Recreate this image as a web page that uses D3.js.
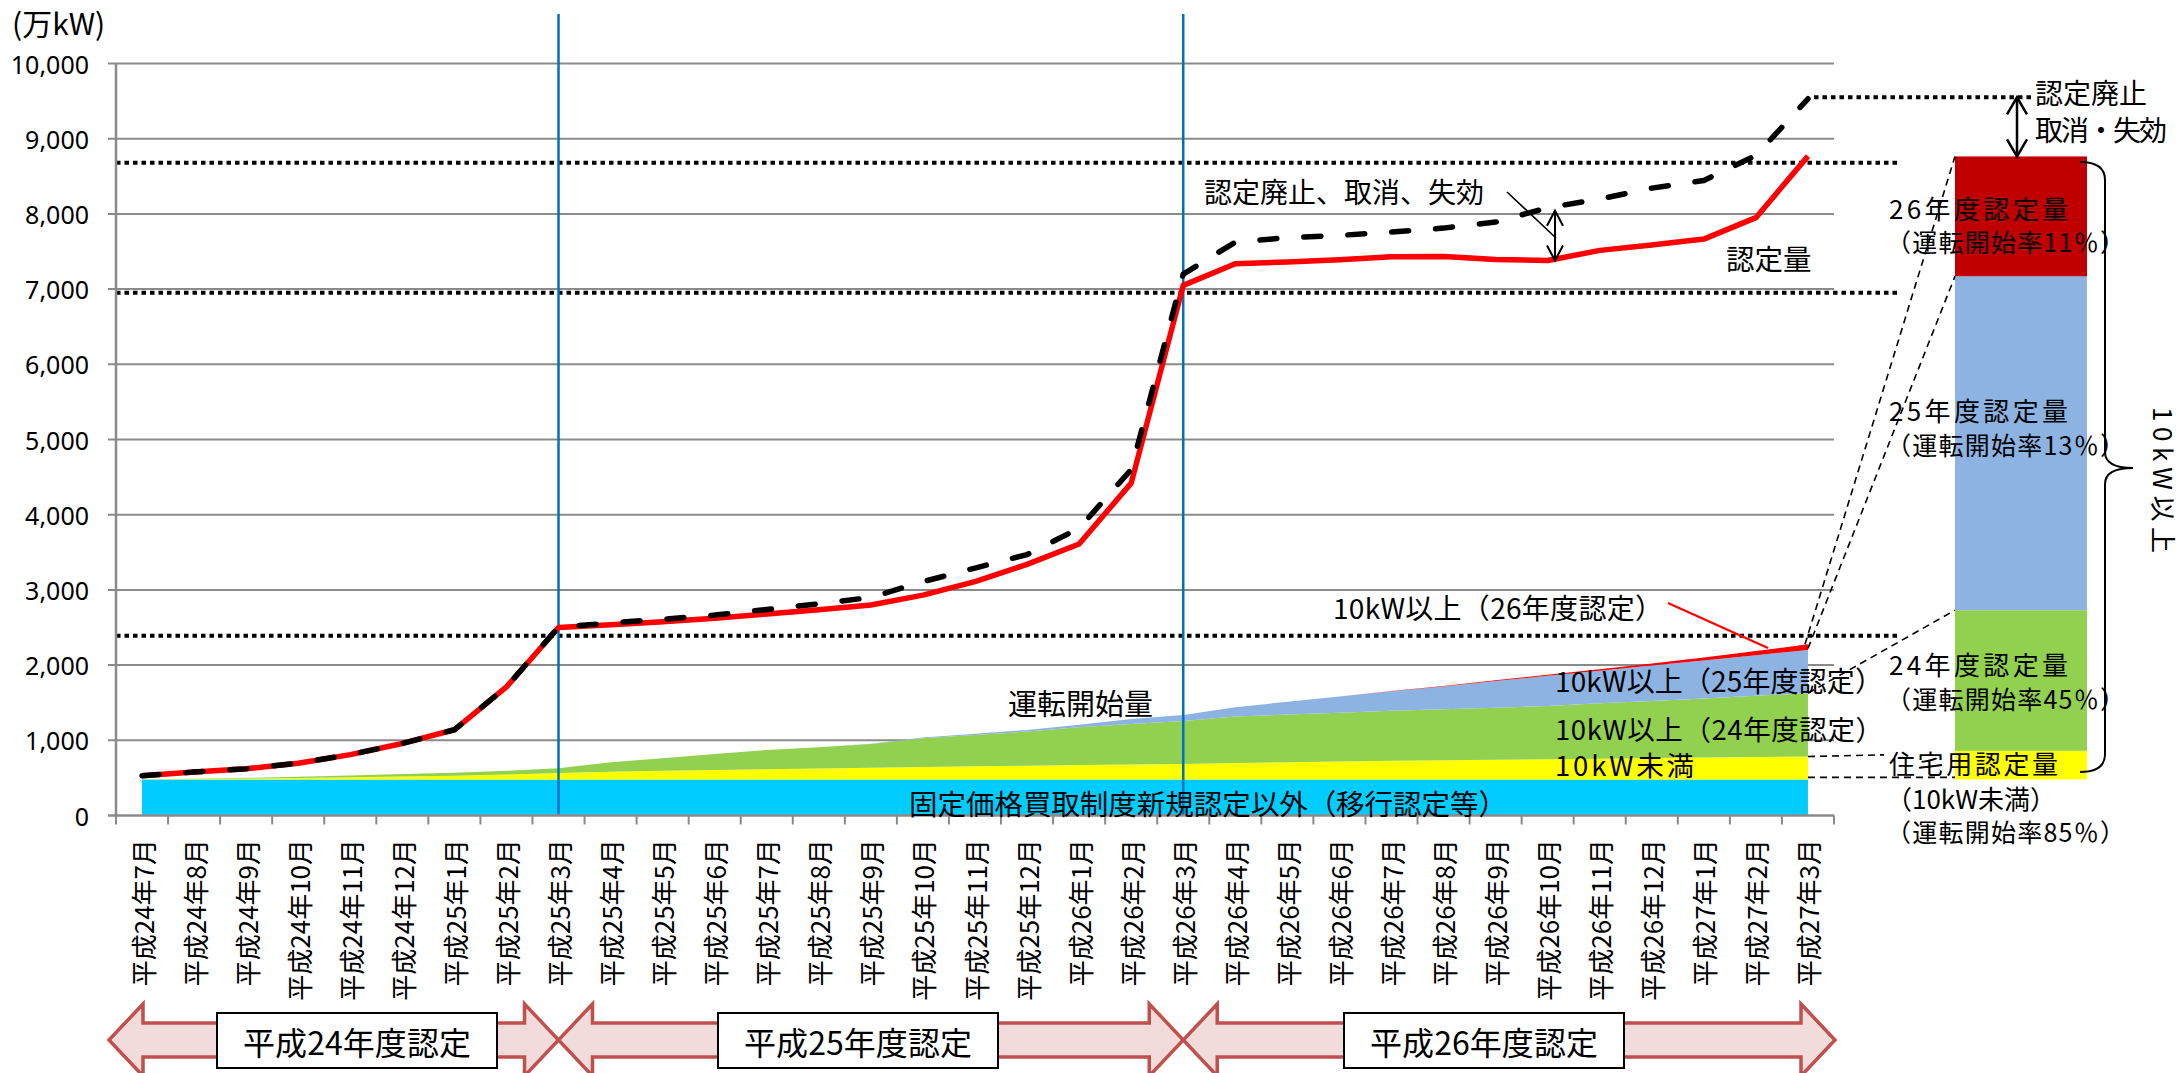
<!DOCTYPE html>
<html><head><meta charset="utf-8">
<script src="https://cdn.jsdelivr.net/npm/d3@7"></script>
<style>
body{margin:0;background:#fff}
svg{display:block}
text{font-family:"Noto Sans CJK JP","Noto Sans",sans-serif;fill:#000}
</style>
</head><body>
<svg id="c" width="2181" height="1073"></svg>
<script>
// ---------------- data ----------------
const months = ["平成24年7月","平成24年8月","平成24年9月","平成24年10月","平成24年11月","平成24年12月",
"平成25年1月","平成25年2月","平成25年3月","平成25年4月","平成25年5月","平成25年6月","平成25年7月","平成25年8月","平成25年9月","平成25年10月","平成25年11月","平成25年12月",
"平成26年1月","平成26年2月","平成26年3月","平成26年4月","平成26年5月","平成26年6月","平成26年7月","平成26年8月","平成26年9月","平成26年10月","平成26年11月","平成26年12月",
"平成27年1月","平成27年2月","平成27年3月"];
const yTickValues = [0,1000,2000,3000,4000,5000,6000,7000,8000,9000,10000];

// 運転開始量 (万kW), stacked
const migrated    = [480,480,480,480,480,480,480,480,480,480,480,480,480,480,480,480,480,480,480,480,480,480,480,480,480,480,480,480,480,480,480,480,480];
const residential = [2,6,11,18,27,38,50,65,85,103,115,126,136,146,156,165,174,183,192,199,206,217,228,238,247,255,262,269,276,284,291,298,304];
const over10kW_H24 = [0,4,10,17,26,33,40,49,62,125,165,213,256,282,316,383,418,453,500,538,571,618,634,649,665,677,692,708,736,758,786,814,842];
const over10kW_H25 = [0,0,0,0,0,0,0,0,0,0,0,0,0,0,2,8,15,22,35,66,81,125,170,215,260,305,353,400,434,472,505,540,575];
const over10kW_H26 = [0,0,0,0,0,0,0,0,0,0,0,0,0,0,0,0,0,0,0,0,0,0,0,0,3,6,10,14,19,28,40,55,75];

// 認定量 and 認定量＋認定廃止・取消・失効
const certified = [528,578,622,695,810,958,1140,1710,2500,2535,2578,2622,2680,2735,2800,2930,3110,3340,3610,4420,7050,7338,7362,7391,7430,7435,7395,7380,7515,7585,7665,7950,8768];
const certifiedInclCancelled = [528,578,622,695,810,958,1140,1710,2505,2560,2610,2665,2740,2815,2900,3110,3290,3470,3820,4600,7200,7625,7683,7714,7758,7811,7891,8082,8197,8343,8445,8777,9531];

// right-hand bar: certified amount by category (base = 移行認定)
const barKeys   = ["base","residential","h24","h25","h26"];
const barValues = [480, 380, 1870, 4440, 1594];
const cancelledTop = 9550;
const refLevels = [2390, 6950, 8680];
const fiscalYearLabels = ["平成24年度認定","平成25年度認定","平成26年度認定"];

// ---------------- layout ----------------
const svg = d3.select("#c");
const X0 = 116, X1 = 1834, Y0 = 815.5, Y1 = 63.5;
const x = d3.scaleBand().domain(months).range([X0, X1]).paddingInner(0).paddingOuter(0);
const cx = m => x(m) + x.bandwidth()/2;
const y = d3.scaleLinear().domain([0,10000]).range([Y0, Y1]);

const colors = {migrated:"#00ccff", residential:"#ffff00", h24:"#92d050", h25:"#8db3e2", h26:"#ff0000"};
const barColors = {residential:"#ffff00", h24:"#92d050", h25:"#8db3e2", h26:"#c00000"};

// grid
svg.append("g").selectAll("line").data(yTickValues.filter(v=>v>0)).join("line")
  .attr("x1", X0-8).attr("x2", X1).attr("y1", d=>y(d)).attr("y2", d=>y(d))
  .attr("stroke", "#8a8a8a").attr("stroke-width", 2);

// reference dotted lines
svg.append("g").selectAll("line").data(refLevels).join("line")
  .attr("x1", X0).attr("x2", 1898).attr("y1", d=>y(d)).attr("y2", d=>y(d))
  .attr("stroke", "#000").attr("stroke-width", 4).attr("stroke-dasharray", "4.5,4");
svg.append("line").attr("x1", cx(months[32])+6).attr("x2", 2033)
  .attr("y1", y(cancelledTop)).attr("y2", y(cancelledTop))
  .attr("stroke", "#000").attr("stroke-width", 4).attr("stroke-dasharray", "4.5,4");

// stacked areas
const rows = months.map((m,i)=>({m, migrated:migrated[i], residential:residential[i], h24:over10kW_H24[i], h25:over10kW_H25[i], h26:over10kW_H26[i]}));
const keys = ["migrated","residential","h24","h25","h26"];
const stack = d3.stack().keys(keys)(rows);
const area = d3.area().x(d=>cx(d.data.m)).y0(d=>y(d[0])).y1(d=>y(d[1]));
svg.append("g").selectAll("path").data(stack).join("path")
  .attr("d", area).attr("fill", d=>colors[d.key]);

// blue vertical lines (fiscal year boundaries)
const fyBoundaries = [months[8], months[20]];
svg.append("g").selectAll("line").data(fyBoundaries).join("line")
  .attr("x1", d=>cx(d)).attr("x2", d=>cx(d)).attr("y1", 14).attr("y2", Y0)
  .attr("stroke", "#0070c0").attr("stroke-width", 2.5);

// lines
const line = d3.line().x((d,i)=>cx(months[i])).y(d=>y(d));
svg.append("path").attr("d", line(certified)).attr("fill","none")
  .attr("stroke","#ff0000").attr("stroke-width",5.5).attr("stroke-linejoin","round");
svg.append("path").attr("d", line(certifiedInclCancelled)).attr("fill","none")
  .attr("stroke","#000").attr("stroke-width",5.5).attr("stroke-dasharray","17,27")
  .attr("stroke-linecap","round").attr("stroke-linejoin","round");

// axes
svg.append("line").attr("x1",X0).attr("x2",X0).attr("y1",Y1).attr("y2",Y0+1).attr("stroke","#8a8a8a").attr("stroke-width",2.5);
svg.append("line").attr("x1",X0-8).attr("x2",X1).attr("y1",Y0).attr("y2",Y0).attr("stroke","#8a8a8a").attr("stroke-width",2.5);
svg.append("g").selectAll("line").data(d3.range(months.length+1)).join("line")
  .attr("x1", i=>X0 + i*x.bandwidth()).attr("x2", i=>X0 + i*x.bandwidth())
  .attr("y1", Y0).attr("y2", Y0+9).attr("stroke","#8a8a8a").attr("stroke-width",2);

svg.append("g").selectAll("text").data(yTickValues).join("text")
  .attr("x", 89).attr("y", d=>y(d)).attr("text-anchor","end").attr("dominant-baseline","central")
  .style("font-family","'Noto Sans',sans-serif").style("font-size","25px")
  .text(d3.format(","));

svg.append("g").selectAll("text").data(months).join("text")
  .attr("transform", d=>`translate(${cx(d)},839) rotate(-90)`)
  .attr("text-anchor","end").attr("dominant-baseline","central")
  .style("font-size","26px").text(d=>d);

svg.append("text").attr("x",12).attr("y",22).attr("dominant-baseline","central")
  .style("font-size","30px").text("(万kW)");

// right bar
let acc = 0;
const barSegs = barKeys.map((k,i)=>{const s={key:k, y0:acc, y1:acc+barValues[i]}; acc+=barValues[i]; return s;});
const BX = 1955, BW = 132;
svg.append("g").selectAll("rect").data(barSegs.filter(s=>s.key!=="base")).join("rect")
  .attr("x",BX).attr("width",BW).attr("y",d=>y(d.y1)).attr("height",d=>y(d.y0)-y(d.y1))
  .attr("fill",d=>barColors[d.key]);

// connector dashed lines from area end to bar
const last = rows.length-1;
const endX = cx(months[last]);
const topAt = k => stack.find(s=>s.key===k)[last][1];
const seg = k => barSegs.find(s=>s.key===k);
const connectors = [
  [endX-3, y(topAt("h26")), BX, y(seg("h26").y1)],
  [endX, y(topAt("h26"))+4, BX, y(seg("h25").y1)],
  [endX, y(topAt("h24")), BX, y(seg("h24").y1)],
  [endX, y(topAt("residential")), 1884, y(seg("residential").y1)+4],
  [endX, y(topAt("migrated"))-2, BX, y(topAt("migrated"))-2]
];
svg.append("g").selectAll("line").data(connectors).join("line")
  .attr("x1",d=>d[0]).attr("y1",d=>d[1]).attr("x2",d=>d[2]).attr("y2",d=>d[3])
  .attr("stroke","#000").attr("stroke-width",1.6).attr("stroke-dasharray","7,5");

// double arrow helper
function dblArrow(xp, ya, yb, hw, hl, sw){
  const g = svg.append("g").attr("fill","none").attr("stroke","#000").attr("stroke-width",sw);
  g.append("line").attr("x1",xp).attr("x2",xp).attr("y1",ya).attr("y2",yb);
  g.append("path").attr("d",`M${xp-hw},${ya+hl}L${xp},${ya}L${xp+hw},${ya+hl}`);
  g.append("path").attr("d",`M${xp-hw},${yb-hl}L${xp},${yb}L${xp+hw},${yb-hl}`);
}
dblArrow(2017, y(cancelledTop), y(acc), 10, 17, 2.5);
dblArrow(1555, y(certifiedInclCancelled[27])+3, y(certified[27]), 8, 15, 2);
svg.append("line").attr("x1",1507).attr("y1",192).attr("x2",1556).attr("y2",238).attr("stroke","#000").attr("stroke-width",1.6);

// curly brace
svg.append("path").attr("fill","none").attr("stroke","#000").attr("stroke-width",2)
  .attr("d","M2080,162 Q2105,162 2105,180 L2105,452 Q2105,468 2133,468 Q2105,468 2105,484 L2105,754 Q2105,772 2080,772");
svg.append("text").attr("transform","translate(2164,480) rotate(90)")
  .attr("text-anchor","middle").attr("dominant-baseline","central")
  .style("font-size","26px").attr("textLength",146).attr("lengthAdjust","spacing").text("10kW以上");

// red pointer for 26年度
svg.append("line").attr("x1",1668).attr("y1",603).attr("x2",1768).attr("y2",648).attr("stroke","#ff0000").attr("stroke-width",2.2);

// chart labels
const labels = [
  {t:"認定廃止、取消、失効", x:1204, y:191, s:28},
  {t:"認定量", x:1726, y:257, s:28.5},
  {t:"10kW以上（26年度認定）", x:1333, y:607, s:28, tl:330},
  {t:"運転開始量", x:1008, y:702, s:29},
  {t:"10kW以上（25年度認定）", x:1555, y:680, s:28, tl:328},
  {t:"10kW以上（24年度認定）", x:1555, y:728, s:27.5, tl:328},
  {t:"10kW未満", x:1555, y:764, s:27.5, tl:139},
  {t:"固定価格買取制度新規認定以外（移行認定等）", x:909, y:802, s:28.5, tl:598},
  {t:"認定廃止", x:2035, y:92, s:28},
  {t:"取消・失効", x:2035, y:129, s:28, tl:132},
  {t:"26年度認定量", x:1889, y:207, s:26, tl:179},
  {t:"（運転開始率11％）", x:1886, y:241, s:25, tl:239},
  {t:"25年度認定量", x:1889, y:409, s:26, tl:179},
  {t:"（運転開始率13％）", x:1886, y:444, s:25, tl:239},
  {t:"24年度認定量", x:1889, y:663, s:26, tl:179},
  {t:"（運転開始率45％）", x:1886, y:698, s:25, tl:239},
  {t:"住宅用認定量", x:1889, y:762, s:26, tl:169},
  {t:"（10kW未満）", x:1886, y:797, s:26, tl:170},
  {t:"（運転開始率85％）", x:1886, y:831, s:25, tl:239}
];
svg.append("g").selectAll("text").data(labels).join("text")
  .attr("x",d=>d.x).attr("y",d=>d.y).attr("dominant-baseline","central")
  .attr("textLength",d=>d.tl||null).attr("lengthAdjust","spacing")
  .style("font-size",d=>d.s+"px").text(d=>d.t);

// fiscal-year arrows at bottom
const fyRanges = [[X0-7, cx(months[8])], [cx(months[8]), cx(months[20])], [cx(months[20]), X1+1]];
const boxCenters = [357, 858, 1484];
const CY = 1040, S = 17, H = 36, HL = 34;
const arrowPts = ([a,b]) => [[a,CY],[a+HL,CY-H],[a+HL,CY-S],[b-HL,CY-S],[b-HL,CY-H],[b,CY],[b-HL,CY+H],[b-HL,CY+S],[a+HL,CY+S],[a+HL,CY+H]].map(p=>p.join(",")).join(" ");
svg.append("g").selectAll("polygon").data(fyRanges).join("polygon")
  .attr("points",arrowPts).attr("fill","#f2dcdb").attr("stroke","none");
svg.append("g").selectAll("polygon").data(fyRanges).join("polygon")
  .attr("points",arrowPts).attr("fill","none").attr("stroke","#c0504d").attr("stroke-width",3.5).attr("stroke-linejoin","miter");
svg.append("g").selectAll("rect").data(boxCenters).join("rect")
  .attr("x",d=>d-140).attr("y",1013).attr("width",280).attr("height",55)
  .attr("fill","#fff").attr("stroke","#000").attr("stroke-width",2);
svg.append("g").selectAll("text").data(fiscalYearLabels).join("text")
  .attr("x",(d,i)=>boxCenters[i]).attr("y",1041).attr("text-anchor","middle").attr("dominant-baseline","central")
  .attr("textLength",228).attr("lengthAdjust","spacing")
  .style("font-size","32px").text(d=>d);
</script>
</body></html>
